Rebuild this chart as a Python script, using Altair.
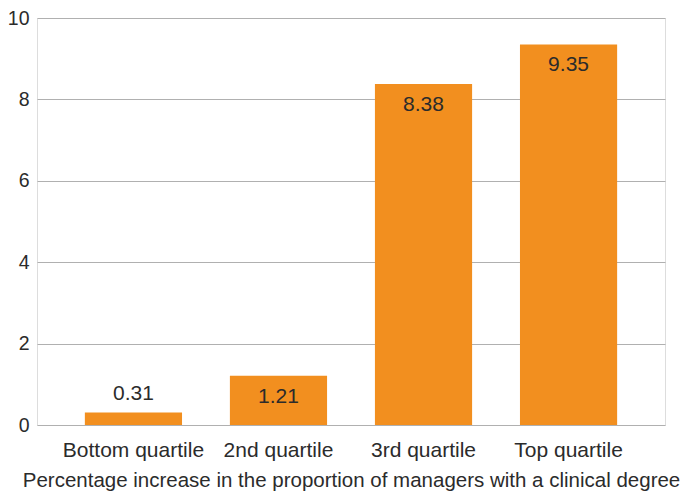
import altair as alt
import pandas as pd

categories = ["Bottom quartile", "2nd quartile", "3rd quartile", "Top quartile"]
values = [0.31, 1.21, 8.38, 9.35]
labels = ["0.31", "1.21", "8.38", "9.35"]

df = pd.DataFrame({"cat": categories, "value": values, "label": labels})

FONT = "Liberation Sans"
TXT = "#2b2b2b"

x = alt.X("cat:N", sort=categories,
          scale=alt.Scale(paddingInner=0.33, paddingOuter=0.33),
          axis=alt.Axis(title="Percentage increase in the proportion of managers with a clinical degree",
                        labelAngle=0, labelFontSize=21, labelFont=FONT, labelColor=TXT,
                        titleFontSize=20.5, titleFont=FONT, titleColor=TXT, titleFontWeight="normal",
                        labelPadding=14, titlePadding=10, ticks=False, domain=False))
y = alt.Y("value:Q", scale=alt.Scale(domain=[0, 10]),
          axis=alt.Axis(title=None, values=[0, 2, 4, 6, 8, 10], labelFontSize=19.5, labelFont=FONT,
                        labelColor=TXT, labelPadding=8, ticks=False, domain=False,
                        gridColor="#b0b0b0", gridWidth=1.2))

base = alt.Chart(df)
bars = base.mark_bar(color="#F28F1F").encode(x=x, y=y)
text_in = base.transform_filter("datum.value >= 1").mark_text(
    dy=21, fontSize=21, font=FONT, color=TXT, baseline="middle").encode(
    x=alt.X("cat:N", sort=categories), y="value:Q", text="label:N")
text_out = base.transform_filter("datum.value < 1").mark_text(
    dy=-18, fontSize=21, font=FONT, color=TXT, baseline="middle").encode(
    x=alt.X("cat:N", sort=categories), y="value:Q", text="label:N")

chart = (bars + text_in + text_out).properties(
    width=628, height=407,
    autosize=alt.AutoSizeParams(type="none"),
    padding={"left": 29, "top": 10, "right": 16, "bottom": 66},
).configure_view(stroke=None).configure(background="white")

chart.save("out.html", embed_options={"renderer": "svg", "actions": False})
